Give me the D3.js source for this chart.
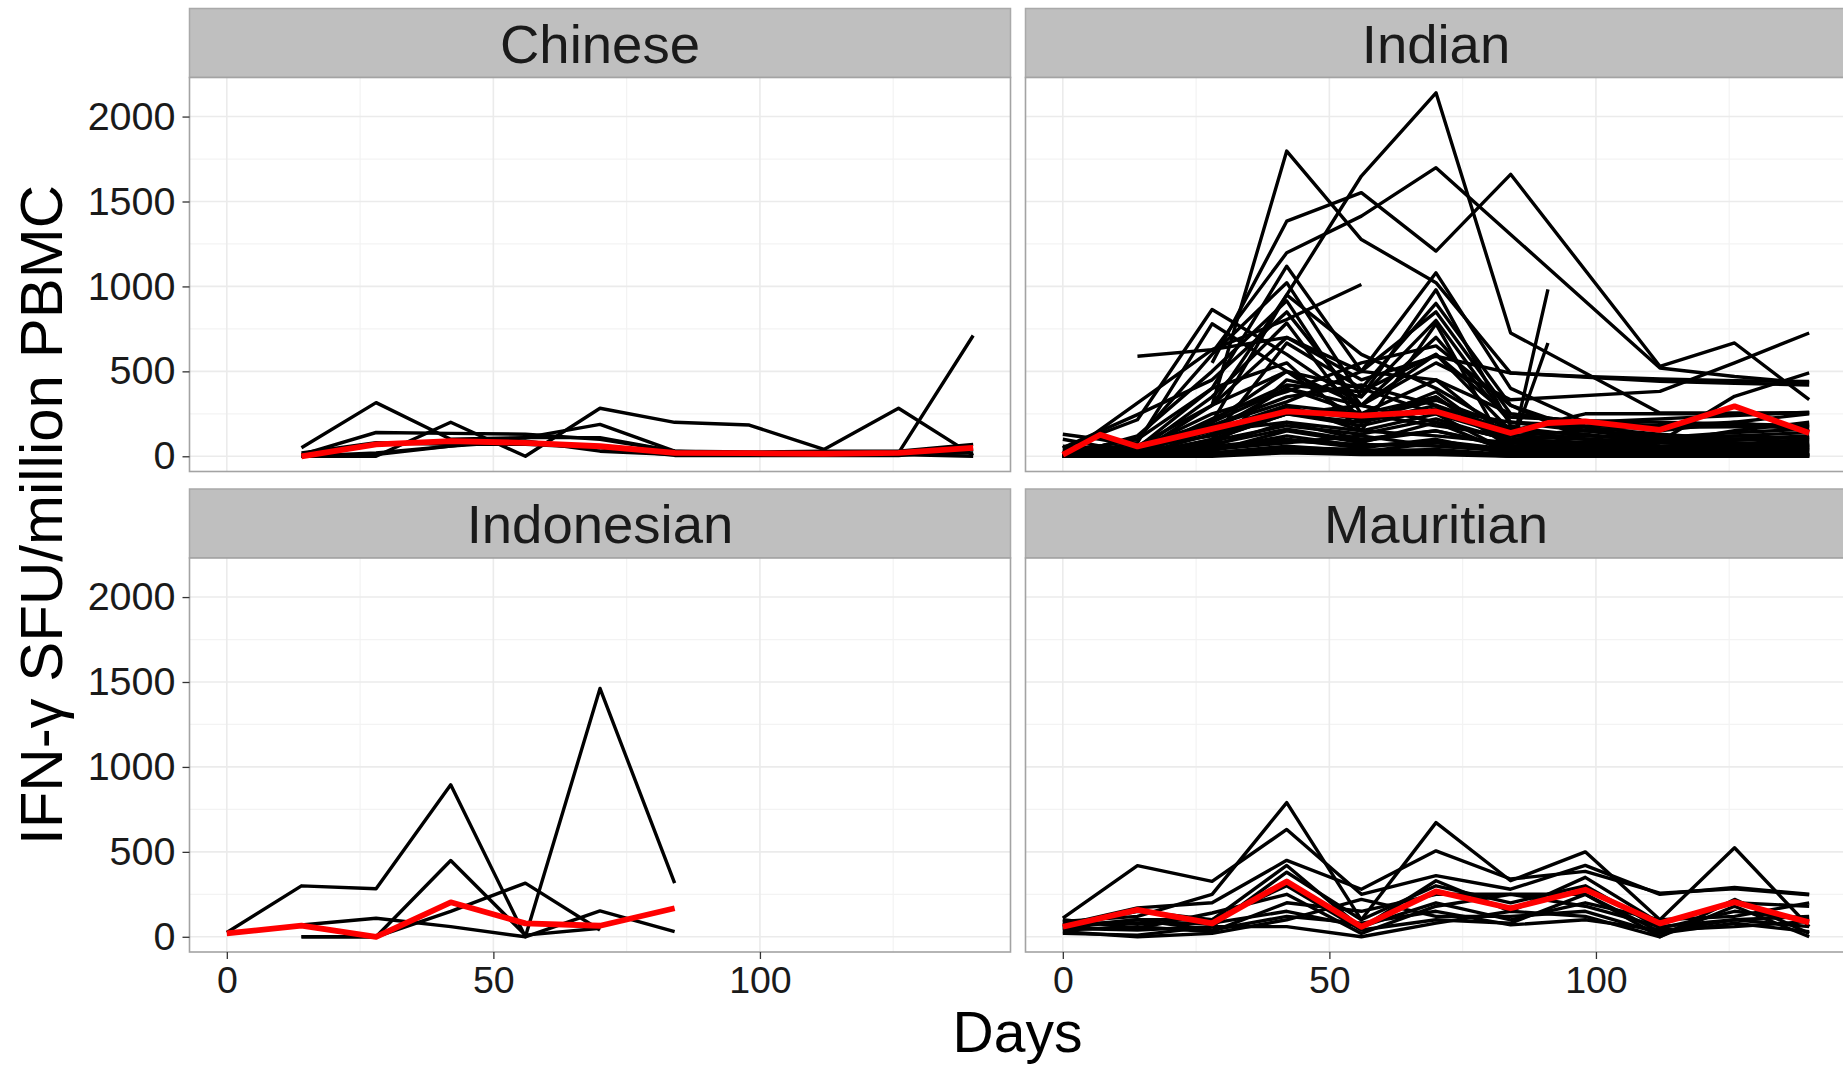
<!DOCTYPE html>
<html>
<head>
<meta charset="utf-8">
<script src="https://cdn.jsdelivr.net/npm/d3@7"></script>
<style>
  body { margin: 0; background: #fff; }
  svg { display: block; }
  text { font-family: "Liberation Sans", Arial, Helvetica, sans-serif; }
</style>
</head>
<body>
<svg id="chart" width="1843" height="1065"></svg>
<script>
// ---- data: IFN-gamma ELISpot responses per animal, by cohort ----
const n = null;

const chineseDays = [14, 28, 42, 56, 70, 84, 98, 112, 126, 140];
const chineseSeries = [
  [50, 316, 100, 110, 110, 30, 20, 20, 20, 711],
  [10, 140, 135, 130, 100, 30, 25, 30, 30, 70],
  [0, 0, 200, 0, 283, 200, 184, 40, 283, 5],
  [0, 20, 60, 110, 188, 30, 10, 10, 10, 20],
  [0, 10, 60, 90, 30, 10, 10, 10, 10, 0],
  [20, 80, 70, 70, 50, 5, 5, 5, 5, 40]
];
const chineseMean = [0, 70, 89, 79, 59, 20, 18, 15, 20, 50];

const indianDays = [0, 7, 14, 28, 42, 56, 70, 84, 91, 98, 112, 126, 140];
const indianSeries = [
  [n, n, n, 300, 950, 1650, 2140, 726, n, n, 255, 255, 256],
  [n, n, n, 300, 1797, 1276, 1022, 490, n, 470, 455, 445, 440],
  [n, n, n, 550, 1384, 1552, 1208, 1660, n, n, 530, 667, 333],
  [n, n, n, 610, 1198, 1414, 1699, 1306, n, n, 520, 470, 432],
  [n, n, 589, 628, 805, 1011, n, n, n, n, n, n, n],
  [n, n, n, 150, 300, 150, 250, 20, 982, n, n, n, n],
  [n, n, n, 100, 250, 200, 350, 50, 667, n, n, n, n],
  [50, n, 215, 864, 600, 300, 200, 100, n, 80, 60, 50, 40],
  [0, n, 50, 400, 1119, 500, 1080, 400, n, 200, 150, 200, 250],
  [20, n, 100, 600, 1022, 350, 800, 200, n, 150, 100, 120, 100],
  [130, 100, 60, 200, 500, 400, 900, 300, n, 150, 120, 100, 80],
  [0, n, n, 628, 700, 500, 850, 250, n, 200, 180, 180, 180],
  [50, n, 245, 450, 850, 300, 600, 150, n, 100, 87, 353, 491],
  [n, n, 0, 200, 950, 600, 400, 150, n, 250, 250, 250, 256],
  [0, n, 20, 300, 700, 450, 589, 490, n, n, 441, 430, 420],
  [n, n, 30, 150, 400, 300, 550, 333, n, n, 382, 550, 726],
  [10, 40, 80, 780, 500, 300, 700, 200, n, 180, 170, 174, 174],
  [0, n, 120, 500, 915, 250, 450, 100, n, 120, 100, 80, 60],
  [20, n, 30, 350, 785, 200, 300, 80, n, 50, 80, 150, 200],
  [0, n, 10, 100, 667, 400, 250, 120, n, 100, 60, 40, 30],
  [40, 60, 100, 400, 550, 150, 780, 0, n, 30, 20, 20, 20],
  [0, n, 0, 50, 450, 350, 980, 180, n, 60, 50, 60, 70],
  [10, n, 40, 250, 380, 550, 650, 300, n, 100, 50, 30, 10],
  [0, n, 0, 80, 300, 250, 350, 60, n, 40, 30, 60, 100],
  [30, n, 50, 150, 200, 100, 150, 50, n, 20, 10, 10, 0],
  [0, n, 0, 30, 150, 80, 200, 20, n, 0, 0, 0, 0],
  [0, n, 10, 60, 100, 50, 100, 10, n, 20, 30, 20, 10],
  [60, n, 30, 200, 400, 250, 180, 120, n, 150, 180, 200, 150],
  [0, n, 0, 20, 60, 30, 40, 10, n, 10, 10, 5, 5],
  [20, n, 50, 120, 250, 180, 280, 200, n, 170, 130, 100, 120],
  [0, n, 5, 40, 120, 60, 90, 40, n, 30, 20, 30, 40],
  [10, n, 20, 90, 180, 130, 220, 90, n, 70, 60, 80, 60],
  [0, n, 60, 300, 500, 200, 380, 60, n, 20, 40, 60, 50],
  [0, n, 0, 10, 30, 20, 30, 0, n, 0, 0, 0, 0],
  [100, n, 20, 180, 350, 420, 300, 150, n, 130, 80, 70, 60],
  [0, n, 0, 60, 200, 150, 120, 80, n, 60, 40, 20, 10],
  [0, n, 0, 100, 250, 300, 200, 100, n, 80, 100, 120, 140],
  [20, n, 40, 180, 320, 500, 450, 250, n, 200, 220, 240, 260],
  [0, n, 10, 40, 80, 120, 60, 30, n, 40, 50, 60, 80],
  [5, n, 0, 20, 50, 40, 20, 5, n, 5, 15, 30, 20],
  [0, n, 30, 70, 160, 90, 150, 60, n, 80, 90, 100, 110],
  [10, n, 20, 50, 90, 70, 60, 40, n, 50, 40, 45, 50],
  [0, n, 0, 0, 20, 10, 10, 0, n, 0, 5, 10, 5],
  [30, n, 10, 130, 280, 220, 330, 170, n, 120, 110, 140, 160],
  [0, n, 15, 220, 420, 380, 600, 230, n, 210, 200, 190, 180],
  [0, n, 5, 15, 40, 25, 80, 30, n, 25, 35, 50, 40]
];
const indianMean = [9, 127, 58, 161, 264, 239, 264, 137, 196, 205, 156, 294, 137];

const indonesianDays = [0, 14, 28, 42, 56, 70, 84];
const indonesianSeries = [
  [25, 300, 283, 895, 0, 1462, 316],
  [n, 69, 109, 60, 0, 152, 30],
  [n, 0, 0, 449, 10, 50, n],
  [n, 0, 0, 150, 316, 40, n]
];
const indonesianMean = [20, 65, 0, 203, 79, 65, 168];

const mauritianDays = [0, 14, 28, 42, 56, 70, 84, 98, 112, 126, 140];
const mauritianSeries = [
  [110, 419, 326, 632, 250, 360, 280, 420, 250, 290, 250],
  [90, 120, 250, 790, 100, 672, 330, 500, 100, 524, 60],
  [70, 170, 200, 450, 280, 506, 340, 385, 257, 283, 247],
  [60, 100, 100, 420, 50, 330, 150, 350, 80, 200, 180],
  [50, 40, 60, 380, 100, 300, 200, 300, 50, 150, 100],
  [40, 60, 30, 200, 150, 250, 250, 250, 30, 100, 60],
  [80, 80, 80, 150, 60, 200, 100, 200, 100, 120, 200],
  [30, 0, 20, 100, 220, 120, 120, 150, 20, 80, 30],
  [60, 150, 100, 300, 40, 100, 80, 250, 0, 180, 0],
  [100, 50, 140, 250, 20, 180, 250, 180, 60, 100, 120],
  [50, 100, 40, 120, 80, 150, 70, 100, 40, 60, 90],
  [20, 10, 60, 60, 0, 80, 150, 120, 0, 220, 20]
];
const mauritianMean = [59, 158, 79, 326, 59, 267, 168, 277, 79, 204, 85];

const panelNames = ["Chinese", "Indian", "Indonesian", "Mauritian"];
const yTicks = [0, 500, 1000, 1500, 2000];
const yMinor = [250, 750, 1250, 1750];
const xTicks = [0, 50, 100];
const xMinor = [25, 75, 125];
const xTitle = "Days";
const yTitle = "IFN-\u03B3 SFU/million PBMC";

// ---- layout ----
const panels = [
  { name: panelNames[0], days: chineseDays, series: chineseSeries, mean: chineseMean, col: 0, row: 0 },
  { name: panelNames[1], days: indianDays, series: indianSeries, mean: indianMean, col: 1, row: 0 },
  { name: panelNames[2], days: indonesianDays, series: indonesianSeries, mean: indonesianMean, col: 0, row: 1 },
  { name: panelNames[3], days: mauritianDays, series: mauritianSeries, mean: mauritianMean, col: 1, row: 1 }
];
const colX = [189.5, 1025.5];
const rowY = [8.5, 489];
const stripH = 69;
const panelW = 821, panelH = 394;

const x = d3.scaleLinear().domain([-7, 147]).range([0, panelW]);
const y = d3.scaleLinear().domain([-89.6, 2230]).range([panelH, 0]);

const svg = d3.select("#chart");
svg.append("rect").attr("width", 1843).attr("height", 1065).attr("fill", "#fff");

const defs = svg.append("defs");
defs.append("clipPath").attr("id", "panel-clip")
  .append("rect").attr("width", panelW).attr("height", panelH);

const line = d3.line()
  .x(d => x(d[0]))
  .y(d => y(d[1]));

panels.forEach(p => {
  const gx = colX[p.col];
  const gy = rowY[p.row];

  // strip
  const strip = svg.append("g").attr("transform", `translate(${gx},${gy})`);
  strip.append("rect")
    .attr("width", panelW).attr("height", stripH)
    .attr("fill", "#BFBFBF").attr("stroke", "#A9A9A9").attr("stroke-width", 1.5);
  strip.append("text")
    .attr("x", panelW / 2).attr("y", stripH / 2 + 19.5)
    .attr("text-anchor", "middle")
    .attr("font-size", 54.5).attr("fill", "#1A1A1A")
    .text(p.name);

  const g = svg.append("g").attr("transform", `translate(${gx},${gy + stripH})`);
  g.append("rect").attr("width", panelW).attr("height", panelH).attr("fill", "#fff");

  // grid
  g.selectAll(".ymin").data(yMinor).join("line")
    .attr("x1", 0).attr("x2", panelW).attr("y1", d => y(d)).attr("y2", d => y(d))
    .attr("stroke", "#F3F3F3").attr("stroke-width", 1.2);
  g.selectAll(".xmin").data(xMinor).join("line")
    .attr("y1", 0).attr("y2", panelH).attr("x1", d => x(d)).attr("x2", d => x(d))
    .attr("stroke", "#F3F3F3").attr("stroke-width", 1.2);
  g.selectAll(".ymaj").data(yTicks).join("line")
    .attr("x1", 0).attr("x2", panelW).attr("y1", d => y(d)).attr("y2", d => y(d))
    .attr("stroke", "#EBEBEB").attr("stroke-width", 1.6);
  g.selectAll(".xmaj").data(xTicks).join("line")
    .attr("y1", 0).attr("y2", panelH).attr("x1", d => x(d)).attr("x2", d => x(d))
    .attr("stroke", "#EBEBEB").attr("stroke-width", 1.6);

  // individual trajectories, then the summary line on top
  const plot = g.append("g").attr("clip-path", "url(#panel-clip)");
  p.series.forEach(s => {
    const pts = p.days.map((d, i) => [d, s[i]]).filter(d => d[1] !== null);
    plot.append("path").attr("d", line(pts))
      .attr("fill", "none").attr("stroke", "#000").attr("stroke-width", 3.4)
      .attr("stroke-linejoin", "round");
  });
  const mpts = p.days.map((d, i) => [d, p.mean[i]]);
  plot.append("path").attr("d", line(mpts))
    .attr("fill", "none").attr("stroke", "#FF0000").attr("stroke-width", 5.8)
    .attr("stroke-linejoin", "round");

  g.append("rect").attr("width", panelW).attr("height", panelH)
    .attr("fill", "none").attr("stroke", "#A3A3A3").attr("stroke-width", 1.6);

  // axes
  if (p.col === 0) {
    const ay = g.append("g").call(d3.axisLeft(y).tickValues(yTicks)
      .tickFormat(d3.format("d")).tickSize(7).tickPadding(7));
    ay.select(".domain").remove();
    ay.selectAll("line").attr("stroke", "#333").attr("stroke-width", 1.3);
    ay.selectAll("text").attr("font-size", 39.5).attr("fill", "#1A1A1A")
      .attr("font-family", "'Liberation Sans', Arial, sans-serif");
  }
  if (p.row === 1) {
    const ax = g.append("g").attr("transform", `translate(0,${panelH})`)
      .call(d3.axisBottom(x).tickValues(xTicks).tickFormat(d3.format("d")).tickSize(7).tickPadding(7));
    ax.select(".domain").remove();
    ax.selectAll("line").attr("stroke", "#333").attr("stroke-width", 1.3);
    ax.selectAll("text").attr("font-size", 37.5).attr("fill", "#1A1A1A")
      .attr("font-family", "'Liberation Sans', Arial, sans-serif");
  }
});

// titles
svg.append("text")
  .attr("x", 1017.5).attr("y", 1052)
  .attr("text-anchor", "middle").attr("font-size", 57).attr("fill", "#000")
  .text(xTitle);
svg.append("text")
  .attr("transform", "translate(62,515) rotate(-90)")
  .attr("text-anchor", "middle").attr("font-size", 60).attr("fill", "#000")
  .text(yTitle);
</script>
</body>
</html>
